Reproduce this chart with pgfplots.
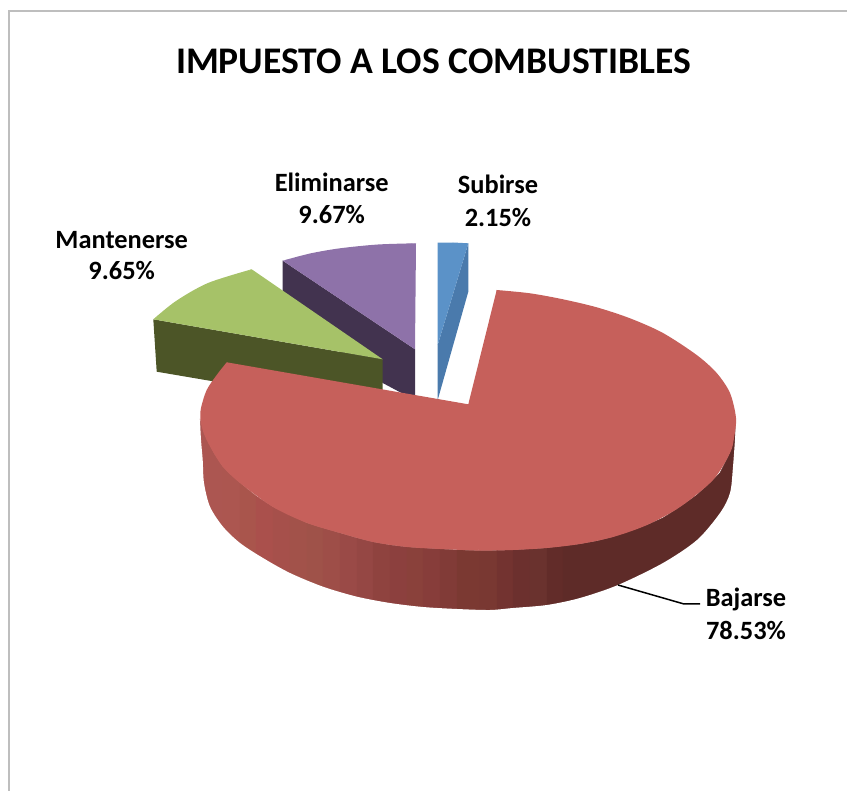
\documentclass[border=0pt]{standalone}
\usepackage{pgfplots}
\pgfplotsset{compat=1.18}
\usepackage{fontspec}
\setmainfont{Carlito}

\definecolor{redtop}{HTML}{C6605B}
\definecolor{greentop}{HTML}{A6C268}
\definecolor{greenwall}{HTML}{4C5527}
\definecolor{purpletop}{HTML}{8E72A9}
\definecolor{purplewall}{HTML}{42334F}
\definecolor{bluetop}{HTML}{5B92C8}
\definecolor{bluewall}{HTML}{4A7AAC}
\definecolor{frame}{HTML}{BEBEBE}

\pgfplotsset{
  colormap={redwall}{
    rgb255(200pt)=(172,86,82) rgb255(234pt)=(172,86,80) rgb255(240pt)=(171,86,76)
    rgb255(256pt)=(168,84,76) rgb255(264pt)=(170,80,76) rgb255(290pt)=(164,80,74)
    rgb255(310pt)=(160,84,74) rgb255(330pt)=(158,78,72) rgb255(360pt)=(152,72,70)
    rgb255(375pt)=(144,68,64) rgb255(400pt)=(140,64,62) rgb255(420pt)=(138,66,58)
    rgb255(440pt)=(132,58,58) rgb255(460pt)=(126,60,50) rgb255(480pt)=(120,52,50)
    rgb255(497pt)=(122,60,50) rgb255(510pt)=(110,46,46) rgb255(540pt)=(106,50,46)
    rgb255(550pt)=(100,44,41) rgb255(565pt)=(94,43,40) rgb255(736pt)=(94,43,40)
  },
}

\begin{document}
\begin{tikzpicture}
\begin{axis}[
  scale only axis, width=847pt, height=791pt,
  xmin=0, xmax=847, ymin=0, ymax=791, y dir=reverse,
  axis line style={draw=none}, ticks=none,
]
% frame of the chart area
\addplot[frame, line width=1.8pt] coordinates {(9,791)(9,11)(847,11)};

% blue slice
\addplot[fill=bluewall, draw=none] coordinates {(468.3,243.3)(468.3,291.7)(437.7,400)(437.7,345)} --cycle;
\addplot[fill=bluetop, draw=none] coordinates {(437.7,242.7)(453,242.5)(468.3,243.3)(437.7,345)} --cycle;

% purple slice
\addplot[fill=purplewall, draw=none] coordinates {(282.7,260.7)(282.7,310)(383.3,383.3)(403.3,394)(415,397)(415,349.3)} --cycle;
\addplot[fill=purpletop, draw=none, smooth] coordinates {(282.7,260.7)(310,253.5)(340,248.3)(378,244.5)(416,243.3)};
\addplot[fill=purpletop, draw=none] coordinates {(282.7,260.7)(340,250)(416,243.3)(415,349.3)} --cycle;

% green slice
\addplot[fill=greenwall, draw=none] coordinates {(153.3,319.3)(156.7,371.7)(223,383)(382.7,407)(382.7,359.3)} --cycle;
\addplot[fill=greentop, draw=none, smooth] coordinates {(153.3,319.3)(176,301)(208,283)(251.7,269.3)};
\addplot[fill=greentop, draw=none] coordinates {(153.3,319.3)(197,293)(251.7,269.3)(382.7,359.3)} --cycle;

% red slice, side wall (top rim / bottom rim pairs, a little long at the bottom)
\addplot[surf, shader=faceted, faceted color=mapped color, line width=0.5pt,
  colormap name=redwall, mesh/cols=2,
  point meta=explicit, point meta min=200, point meta max=736]
  table[meta=c] {
x y c
200 420 200
200 490 200
207 440 207
207 510 207
215 455 215
215 525 215
223 467 223
223 535 223
240 483 240
240 550 240
256 496 256
256 560 256
273 507 273
273 572 273
290 515 290
290 580 290
307 523 307
307 587 307
323 528 323
323 594 323
340 533 340
340 599 340
357 538 357
357 604 357
373 542 373
373 607 373
390 545 390
390 610 390
407 547 407
407 612 407
423 548 423
423 614 423
440 549 440
440 615 440
457 550 457
457 616 457
480 550.7 480
480 617 480
497 550.5 497
497 617 497
513 550 513
513 615 513
530 549 530
530 614 530
547 548 547
547 612 547
563 546 563
563 609 563
580 544 580
580 605 580
597 541 597
597 599 597
613 537 613
613 594 613
630 531 630
630 586 630
647 525 647
647 577 647
663 518 663
663 570 663
680 507 680
680 559 680
697 495 697
697 547 697
713 480 713
713 530 713
720 473 720
720 520 720
730 453 730
730 500 730
735 425 736
735 480 736
};
% white below the outer rim, which gives the wall its round lower edge
\addplot[fill=white, draw=none, smooth] coordinates {
  (200,420)(201,440)(202.7,460)(204,483)(210,506.7)(223,526.7)(240,543)(263,558)(290,573)
  (323,586.7)(357,596.7)(390,603)(423,607)(457,609)(490,610)(513,608)(547,605)(580,598)
  (618,585)(663,563)(697,540)(720,513)(730,493)(733,466.7)(736,425)}
  -- (axis cs:760,425) -- (axis cs:760,650) -- (axis cs:180,650) -- (axis cs:180,420) --cycle;

% red slice, top face
\addplot[fill=redtop, draw=none, smooth] coordinates {
  (496.7,290)(530,293.3)(563,299.3)(596.7,307.3)(630,318.3)(663,333)(696.7,355)(716.7,373)
  (730,393)(736,418)(734,438)(730,453)(713,480)(680,507)(647,525)(613,537)(580,544)(547,548)
  (513,550)(480,550.7)};
\addplot[fill=redtop, draw=none, smooth] coordinates {
  (480,550.7)(440,549)(407,547)(373,542)(340,533)(307,523)(273,507)(240,483)(223,467)
  (212,450)(204,434)(200.5,420)(201,408)(206.7,390)(216.7,375)(226.7,362.3)};
\addplot[fill=redtop, draw=none] coordinates {
  (496.7,290)(600,450)(480,550.5)(300,470)(226.7,362.3)(468.3,404.3)} --cycle;

% leader line for Bajarse
\addplot[black, line width=1.5pt] coordinates {(618,585)(684,604)(700,604)};

\node[anchor=base, font=\fontsize{37.6}{40}\selectfont\bfseries] at (axis cs:433.5,74) {IMPUESTO A LOS COMBUSTIBLES};
\begin{scope}[every node/.style={anchor=base, font=\fontsize{26.4}{30}\selectfont\bfseries}]
\node at (axis cs:121.7,249) {Mantenerse};
\node at (axis cs:121.7,280) {9.65\%};
\node at (axis cs:331.7,192) {Eliminarse};
\node at (axis cs:331.7,223.5) {9.67\%};
\node at (axis cs:498,194) {Subirse};
\node at (axis cs:498,226.5) {2.15\%};
\node at (axis cs:746,607) {Bajarse};
\node at (axis cs:746,639.5) {78.53\%};
\end{scope}
\end{axis}
\end{tikzpicture}
\end{document}
